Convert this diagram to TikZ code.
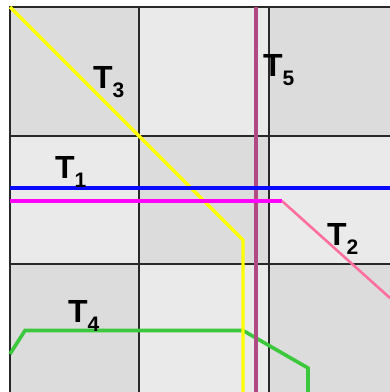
\documentclass[tikz,border=0pt]{standalone}
\usepackage{fontspec}
\setmainfont{Liberation Sans}
\usepackage{tikz}
\usetikzlibrary{positioning}
\definecolor{celldark}{RGB}{220,220,220}
\definecolor{celllight}{RGB}{234,234,234}
\definecolor{gridgray}{RGB}{40,40,40}
\definecolor{trkyellow}{RGB}{255,255,0}
\definecolor{trkblue}{RGB}{10,10,255}
\definecolor{trkmagenta}{RGB}{255,0,255}
\definecolor{trkpink}{RGB}{255,110,160}
\definecolor{trkpurple}{RGB}{175,75,130}
\definecolor{trkgreen}{RGB}{60,200,60}
\newcommand{\trk}[1]{T\raisebox{-9pt}{\fontsize{21}{21}\selectfont #1}}

\begin{document}
\begin{tikzpicture}[
    x=1pt, y=-1pt,
    grid/.style={draw=gridgray, line width=1.5pt},
    track/.style={line width=3.2pt, line join=miter},
    lbl/.style={anchor=base west, inner sep=0pt, font=\fontsize{32}{32}\selectfont\bfseries}
]
\useasboundingbox (0,0) rectangle (390,392);
% checkerboard cells
\foreach \c/\xa/\xb in {0/10/139, 1/139/269, 2/269/390}
  \foreach \r/\ya/\yb in {0/7/136, 1/136/264, 2/264/392} {
    \pgfmathtruncatemacro{\odd}{mod(\c+\r,2)}
    \ifnum\odd=0
      \fill[celldark] (\xa,\ya) rectangle (\xb,\yb);
    \else
      \fill[celllight] (\xa,\ya) rectangle (\xb,\yb);
    \fi
  }
\draw[grid] (390,7) -- (10,7) -- (10,392);
\draw[grid] (139,7) -- (139,392) (269,7) -- (269,392);
\draw[grid] (10,136) -- (390,136) (10,264) -- (390,264);

% tracks
\draw[track, trkgreen, line width=3.6pt] (10,354) -- (25,330.5) -- (243,330.5) -- (308,368) -- (308,392);
\draw[track, trkpurple, line width=4pt] (255.5,7) -- (255.5,392);
\draw[track, trkyellow] (10,7) -- (243,240) -- (243,392);
\draw[track, trkmagenta] (10,201) -- (282,201);
\draw[track, trkpink, line width=2.6pt] (282,201) -- (390,298);
\draw[track, trkblue, line width=3.8pt] (10,188) -- (390,188);

\node[lbl] (t3) at (93,88) {\trk{3}};
\node[lbl] (t1) at (55,178) {\trk{1}};
\node[lbl] (t5) at (263,76) {\trk{5}};
\node[lbl] (t2) at (327,245) {\trk{2}};
\node[lbl] (t4) at (68,322) {\trk{4}};
\end{tikzpicture}
\end{document}
